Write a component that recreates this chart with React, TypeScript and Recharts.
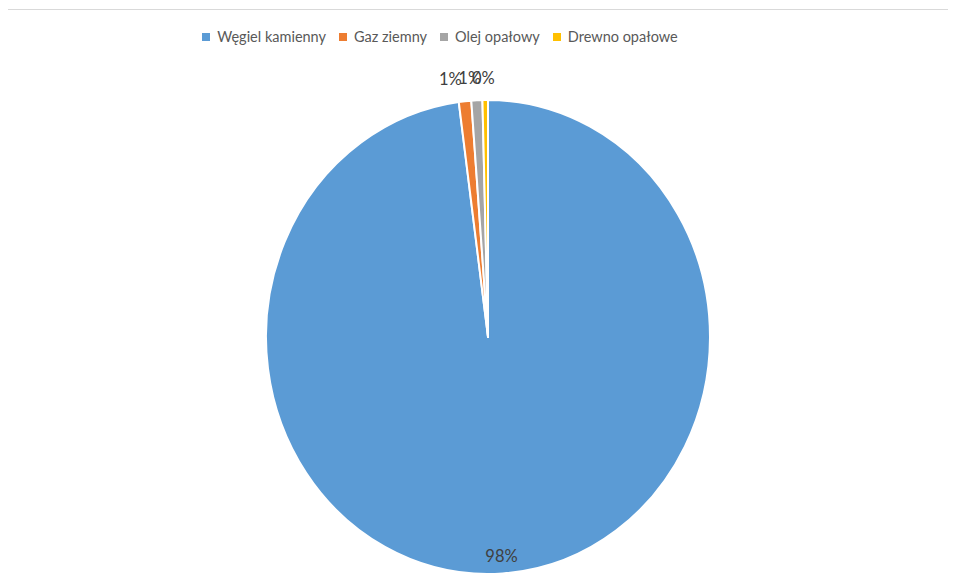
import React from "react";
import { PieChart, Pie, Cell, Legend } from "recharts";

const categories = ["Węgiel kamienny", "Gaz ziemny", "Olej opałowy", "Drewno opałowe"];
const shares = [97.9, 0.9, 0.8, 0.4];
const colors = ["#5B9BD5", "#ED7D31", "#A5A5A5", "#FFC000"];

const data = categories.map((name, i) => ({ name, value: shares[i] }));

const RAD = Math.PI / 180;
const RY_SCALE = 237 / 222;
const FONT = "Lato, 'Open Sans', sans-serif";

function EllipseSector(props: any) {
  const { cx, cy, outerRadius, startAngle, endAngle, fill } = props;
  const rx = outerRadius;
  const ry = outerRadius * RY_SCALE;
  const pt = (a: number) => [cx + rx * Math.cos(a * RAD), cy - ry * Math.sin(a * RAD)];
  const [x1, y1] = pt(startAngle);
  const [x2, y2] = pt(endAngle);
  const delta = startAngle - endAngle;
  const large = Math.abs(delta) > 180 ? 1 : 0;
  const sweep = delta > 0 ? 1 : 0;
  const d = `M${cx},${cy} L${x1},${y1} A${rx},${ry} 0 ${large} ${sweep} ${x2},${y2} Z`;
  return <path d={d} fill={fill} stroke="#ffffff" strokeWidth={2} strokeLinejoin="round" />;
}

function renderLabel(props: any) {
  const { cx, cy, midAngle, outerRadius, percent } = props;
  const rx = outerRadius;
  const ry = outerRadius * RY_SCALE;
  const c = Math.cos(midAngle * RAD);
  const s = Math.sin(midAngle * RAD);
  let x: number;
  let y: number;
  if (percent > 0.5) {
    x = cx + rx * 0.925 * c;
    y = cy - ry * 0.925 * s;
  } else {
    x = cx + (rx + 141) * c;
    y = cy - (ry + 22) * s;
  }
  return (
    <text
      x={x}
      y={y}
      textAnchor="middle"
      dominantBaseline="central"
      fill="#404040"
      fontSize={16.5}
      fontFamily={FONT}
    >
      {Math.round(percent * 100) + "%"}
    </text>
  );
}

function LegendContent() {
  return (
    <div
      style={{
        display: "flex",
        justifyContent: "center",
        alignItems: "center",
        fontFamily: FONT,
        fontSize: 14.5,
        color: "#595959",
        whiteSpace: "nowrap",
      }}
    >
      {categories.map((name, i) => (
        <div key={name} style={{ display: "flex", alignItems: "center", marginRight: i < categories.length - 1 ? 13 : 0 }}>
          <span style={{ display: "inline-block", width: 8, height: 8, background: colors[i], marginRight: 7 }} />
          <span>{name}</span>
        </div>
      ))}
    </div>
  );
}

export default function App() {
  return (
    <div
      style={{
        marginLeft: -1,
        marginTop: 1,
        width: 960,
        height: 580,
        border: "1px solid #d9d9d9",
        background: "#ffffff",
        boxSizing: "border-box",
      }}
    >
      <PieChart width={948} height={568} margin={{ top: 0, right: 0, bottom: 0, left: 0 }}>
        <Legend
          verticalAlign="middle"
          align="center"
          content={<LegendContent />}
          wrapperStyle={{ top: 18, left: 0, width: 864 }}
        />
        <Pie
          data={data}
          dataKey="value"
          nameKey="name"
          cx={480}
          cy={327}
          outerRadius={222}
          startAngle={90}
          endAngle={-270}
          isAnimationActive={false}
          labelLine={false}
          label={renderLabel}
          shape={EllipseSector}
          activeShape={EllipseSector}
          inactiveShape={EllipseSector}
        >
          {data.map((d, i) => (
            <Cell key={d.name} fill={colors[i]} />
          ))}
        </Pie>
      </PieChart>
    </div>
  );
}
